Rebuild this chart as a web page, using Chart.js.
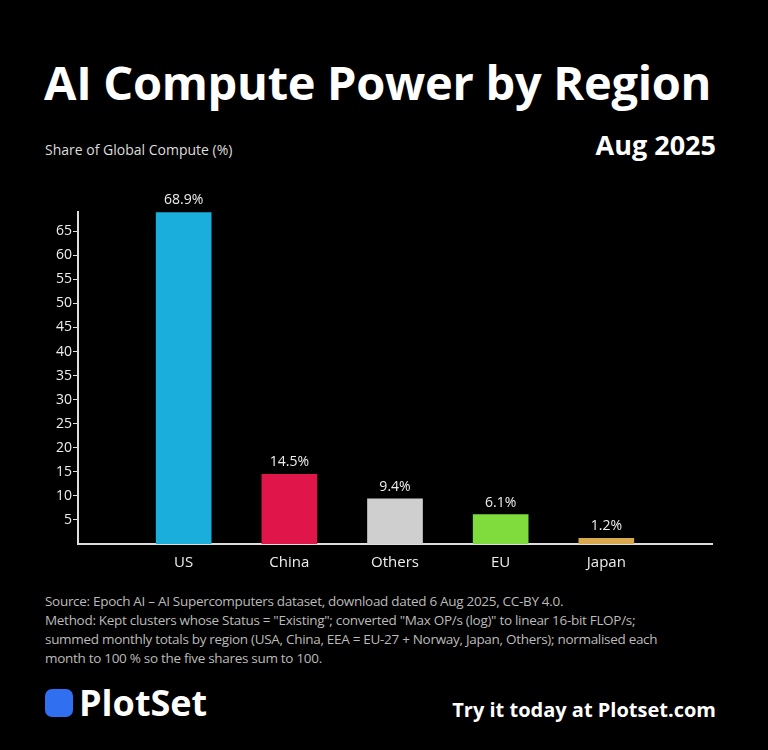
<!DOCTYPE html>
<html>
<head>
<meta charset="utf-8">
<script src="https://cdn.jsdelivr.net/npm/chart.js@4"></script>
<style>
  body { margin:0; background:#000; width:768px; height:750px; overflow:hidden; font-family:"Open Sans", sans-serif; color:#fff; position:relative; }
  h1 { position:absolute; left:44px; top:50px; margin:0; font-size:47px; font-weight:700; letter-spacing:-0.3px; }
  .sub { position:absolute; left:45px; top:140px; font-size:14px; color:#ddd; }
  .date { position:absolute; right:52px; top:126px; font-size:27px; font-weight:700; }
  #wrap { position:absolute; left:30px; top:182px; width:700px; height:400px; }
  .foot { position:absolute; left:45px; top:592px; font-size:13.5px; line-height:19px; color:#bbb; width:720px; letter-spacing:-0.3px; white-space:nowrap; }
  .logo { position:absolute; left:45px; top:678px; font-size:36px; font-weight:700; display:flex; align-items:center; }
  .logo span.ic { display:inline-block; width:28px; height:28px; background:#2f6ff0; border-radius:7px; margin-right:6px; }
  .try { position:absolute; right:52px; top:696px; font-size:20px; font-weight:700; }
</style>
</head>
<body>
<h1>AI Compute Power by Region</h1>
<div class="sub">Share of Global Compute (%)</div>
<div class="date">Aug 2025</div>
<div id="wrap"><canvas id="c"></canvas></div>
<div class="foot">Source: Epoch AI – AI Supercomputers dataset, download dated 6 Aug 2025, CC-BY 4.0.<br>
Method: Kept clusters whose Status = "Existing"; converted "Max OP/s (log)" to linear 16-bit FLOP/s;<br>
summed monthly totals by region (USA, China, EEA = EU-27 + Norway, Japan, Others); normalised each<br>
month to 100 % so the five shares sum to 100.</div>
<div class="logo"><span class="ic"></span>PlotSet</div>
<div class="try">Try it today at Plotset.com</div>
<script>
const regions = ['', 'US', 'China', 'Others', 'EU', 'Japan', ''];
const shares = [null, 68.9, 14.5, 9.4, 6.1, 1.2, null];
const barColors = ['#000', '#1aaedc', '#e0164a', '#cfcfcf', '#7fdc3c', '#d9a84e', '#000'];
const yTicks = [5, 10, 15, 20, 25, 30, 35, 40, 45, 50, 55, 60, 65];

const valueLabels = {
  id: 'valueLabels',
  afterDatasetsDraw(chart) {
    const ctx = chart.ctx;
    ctx.save();
    ctx.fillStyle = '#eee';
    ctx.font = '14px "Open Sans"';
    ctx.textAlign = 'center';
    chart.getDatasetMeta(0).data.forEach((bar, i) => {
      if (shares[i] == null) return;
      ctx.fillText(shares[i].toFixed(1) + '%', bar.x, bar.y - 8);
    });
    ctx.restore();
  }
};

new Chart(document.getElementById('c'), {
  type: 'bar',
  data: { labels: regions, datasets: [{ data: shares, backgroundColor: barColors, barThickness: 55 }] },
  options: {
    responsive: true,
    maintainAspectRatio: false,
    animation: false,
    layout: { padding: { top: 30, right: 18, left: 25 } },
    plugins: { legend: { display: false }, tooltip: { enabled: false } },
    scales: {
      x: {
        offset: false,
        grid: { display: false, drawTicks: false },
        border: { color: '#ddd', width: 2 },
        ticks: { color: '#eee', font: { size: 15, family: 'Open Sans' }, padding: 10, autoSkip: false, maxRotation: 0 }
      },
      y: {
        min: 0, max: 69,
        afterBuildTicks(axis) { axis.ticks = yTicks.map(v => ({ value: v })); },
        grid: { display: true, drawOnChartArea: false, drawTicks: true, tickLength: 5, tickColor: '#ddd' },
        border: { color: '#ddd', width: 2 },
        ticks: { color: '#eee', font: { size: 14, family: 'Open Sans' }, padding: 1 }
      }
    }
  },
  plugins: [valueLabels]
});
</script>
</body>
</html>
